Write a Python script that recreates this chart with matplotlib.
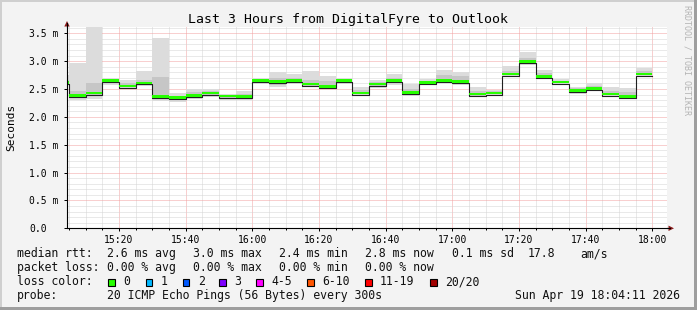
import matplotlib
matplotlib.use("Agg")
import matplotlib.pyplot as plt
from matplotlib.patches import Rectangle, Polygon
from matplotlib.lines import Line2D

# ---------------- data ----------------
bin_start = ["15:00", "15:05", "15:10", "15:15", "15:20", "15:25", "15:30", "15:35",
             "15:40", "15:45", "15:50", "15:55", "16:00", "16:05", "16:10", "16:15",
             "16:20", "16:25", "16:30", "16:35", "16:40", "16:45", "16:50", "16:55",
             "17:00", "17:05", "17:10", "17:15", "17:20", "17:25", "17:30", "17:35",
             "17:40", "17:45", "17:50", "17:55"]
median_ms = [2.62, 2.39, 2.43, 2.66, 2.555, 2.61, 2.36, 2.345,
             2.38, 2.43, 2.375, 2.36, 2.65, 2.63, 2.65, 2.59,
             2.54, 2.65, 2.43, 2.59, 2.65, 2.44, 2.62, 2.66,
             2.63, 2.41, 2.43, 2.77, 2.99, 2.72, 2.625, 2.48,
             2.51, 2.41, 2.36, 2.77]
smoke_lo = [2.58, 2.30, 2.32, 2.58, 2.50, 2.56, 2.285, 2.27,
            2.32, 2.36, 2.30, 2.30, 2.59, 2.54, 2.59, 2.53,
            2.495, 2.585, 2.39, 2.51, 2.57, 2.375, 2.57, 2.60,
            2.57, 2.36, 2.39, 2.73, 2.93, 2.675, 2.585, 2.41,
            2.47, 2.375, 2.33, 2.73]
smoke_hi = [2.75, 2.97, 3.61, 2.70, 2.66, 2.83, 3.42, 2.43,
            2.495, 2.495, 2.42, 2.465, 2.70, 2.81, 2.77, 2.83,
            2.73, 2.69, 2.53, 2.66, 2.77, 2.59, 2.68, 2.84,
            2.81, 2.54, 2.49, 2.91, 3.17, 2.84, 2.68, 2.53,
            2.60, 2.53, 2.51, 2.88]
inner_lo = [2.60, 2.34, 2.37, 2.62, 2.53, 2.58, 2.32, 2.31,
            2.35, 2.40, 2.33, 2.33, 2.62, 2.58, 2.62, 2.56,
            2.52, 2.62, 2.41, 2.55, 2.61, 2.41, 2.60, 2.63,
            2.60, 2.38, 2.41, 2.75, 2.96, 2.70, 2.60, 2.45,
            2.49, 2.39, 2.345, 2.75]
inner_hi = [2.66, 2.47, 2.60, 2.68, 2.60, 2.66, 2.72, 2.38,
            2.45, 2.47, 2.40, 2.41, 2.68, 2.69, 2.70, 2.66,
            2.64, 2.67, 2.48, 2.62, 2.70, 2.50, 2.65, 2.75,
            2.74, 2.46, 2.46, 2.83, 3.06, 2.78, 2.65, 2.51,
            2.55, 2.47, 2.44, 2.82]

x_tick_labels = ["15:20", "15:40", "16:00", "16:20", "16:40", "17:00", "17:20", "17:40", "18:00"]
y_tick_values = [0.0, 0.5, 1.0, 1.5, 2.0, 2.5, 3.0, 3.5]
y_tick_labels = ["0.0", "0.5 m", "1.0 m", "1.5 m", "2.0 m", "2.5 m", "3.0 m", "3.5 m"]

loss_labels = ["0", "1", "2", "3", "4-5", "6-10", "11-19", "20/20"]
loss_colors = ["#26ff00", "#00b8ff", "#0059ff", "#7e00ff", "#ff00ff", "#ff5500", "#ff0000", "#a10000"]

stats_rtt = ["2.6 ms avg", "3.0 ms max", "2.4 ms min", "2.8 ms now", "0.1 ms sd", "17.8", "am/s"]
stats_loss = ["0.00 % avg", "0.00 % max", "0.00 % min", "0.00 % now"]

title = "Last 3 Hours from DigitalFyre to Outlook"
probe_text = "20 ICMP Echo Pings (56 Bytes) every 300s"
date_text = "Sun Apr 19 18:04:11 2026"


def to_min(s):
    h, m = s.split(":")
    return (int(h) - 15) * 60 + int(m)


# ---------------- figure ----------------
W, H = 697, 310
MONO = "DejaVu Sans Mono"
plt.rcParams["font.family"] = MONO

fig = plt.figure(figsize=(W / 100, H / 100), dpi=100, facecolor="#f3f3f3")


def fx(px):
    return px / W


def fy(py):
    return 1 - py / H


AX_L, AX_R, AX_T, AX_B = 67, 667, 27, 228.3
PX_PER_MS = 55.7
ax = fig.add_axes([fx(AX_L), fy(AX_B), (AX_R - AX_L) / W, (AX_B - AX_T) / H])
ax.set_facecolor("white")

x0 = 4.4
ax.set_xlim(x0, x0 + 180)
ax.set_ylim(0, (AX_B - AX_T) / PX_PER_MS)

starts = [to_min(s) for s in bin_start]
BW = 5

# smoke
ax.bar(starts, [h - l for l, h in zip(smoke_lo, smoke_hi)], bottom=smoke_lo, width=BW,
       align="edge", color="#dcdcdc", linewidth=0, zorder=2)
ax.bar(starts, [h - l for l, h in zip(inner_lo, inner_hi)], bottom=inner_lo, width=BW,
       align="edge", color="#c6c6c6", linewidth=0, zorder=2.1)

# median line (step)
edges = starts + [starts[-1] + BW]
off = 0.028
ax.step(edges, [m - off for m in median_ms] + [median_ms[-1] - off], where="post",
        color="#202020", lw=0.8, zorder=3)
# loss-coloured band around median (0 loss -> green)
band = 0.05
ax.bar(starts, [band] * len(median_ms), bottom=[m - band / 2 for m in median_ms], width=BW,
       align="edge", color=loss_colors[0], linewidth=0, zorder=4)

# grid
ax.set_xticks([to_min(s) for s in x_tick_labels])
ax.set_xticklabels(x_tick_labels)
ax.set_xticks(list(range(5, 185, 5)), minor=True)
ax.set_yticks(y_tick_values)
ax.set_yticklabels(y_tick_labels)
ax.set_yticks([i / 10 for i in range(1, 37)], minor=True)
dot = (0, (1, 1))
ax.grid(which="minor", color="#d4d4d4", linestyle=dot, linewidth=0.72, zorder=1)
ax.grid(which="major", color="#f2a0a0", linestyle=dot, linewidth=0.72, zorder=1)
ax.set_axisbelow(True)

ax.tick_params(axis="x", which="major", length=2, width=0.72, pad=2.6, labelsize=7,
               colors="#000000")
ax.tick_params(axis="x", which="minor", length=1.5, width=0.72)
ax.tick_params(axis="y", which="major", length=2, width=0.72, pad=25.2, labelsize=7)
ax.tick_params(axis="y", which="minor", length=0)
for lbl in ax.get_yticklabels():
    lbl.set_horizontalalignment("left")

for side in ("top", "right"):
    ax.spines[side].set_visible(False)
for side in ("left", "bottom"):
    ax.spines[side].set_color("#000000")
    ax.spines[side].set_linewidth(0.8)
    ax.spines[side].set_zorder(5)

# axis extensions and arrows (figure pixel coords)
def px_pts(pts):
    return [(fx(x), fy(y)) for x, y in pts]

fig.add_artist(Line2D([fx(AX_L), fx(AX_L)], [fy(AX_T), fy(23)], transform=fig.transFigure,
                      color="black", lw=0.8))
fig.add_artist(Line2D([fx(AX_R), fx(670)], [fy(AX_B), fy(AX_B)], transform=fig.transFigure,
                      color="black", lw=0.8))
fig.add_artist(Polygon(px_pts([(64.3, 26.5), (69.7, 26.5), (67, 21.0)]), closed=True,
                       transform=fig.transFigure, color="#8b1a1a", lw=0))
fig.add_artist(Polygon(px_pts([(668.5, 225.6), (668.5, 231.0), (674, 228.3)]), closed=True,
                       transform=fig.transFigure, color="#8b1a1a", lw=0))

# title & labels
fig.text(fx(348), fy(23.3), title, ha="center", va="baseline", fontsize=9.5, family=MONO,
         color="#000000")
fig.text(fx(11), fy(127.5), "Seconds", rotation=90, ha="center", va="center", fontsize=8,
         family=MONO)
fig.text(fx(687.5), fy(60), "RRDTOOL / TOBI OETIKER", rotation=-90, ha="center", va="center",
         fontsize=6, family=MONO, color="#b4b4b4")

# legend text
LS = 8.3
def T(x, y, s, **kw):
    fig.text(fx(x), fy(y), s, ha=kw.pop("ha", "left"), va="baseline", fontsize=LS,
             family=MONO, color="#111111", **kw)

rtt_x = [107.3, 193.3, 279.3, 365, 451.7, 527.7, 580]
T(16.7, 257.3, "median rtt:")
for x, s in zip(rtt_x, stats_rtt):
    T(x, 257.3, s)
T(16.7, 271.2, "packet loss:")
for x, s in zip(rtt_x[:4], stats_loss):
    T(x, 271.2, s)
T(16.7, 285.2, "loss color:")
box_x = [108.3, 145.7, 182.7, 219.3, 256, 307.3, 365, 430]
for x, lab, col in zip(box_x, loss_labels, loss_colors):
    fig.add_artist(Rectangle((fx(x), fy(285.6)), 6.6 / W, 6.6 / H, transform=fig.transFigure,
                             facecolor=col, edgecolor="black", lw=0.8))
    T(x + 15, 285.2, lab)
T(16.7, 299, "probe:")
T(107.3, 299, probe_text)
T(680, 299, date_text, ha="right")

# 3D frame
fig.add_artist(Rectangle((0, fy(2)), 1, 2 / H, transform=fig.transFigure, color="#cfcfcf", lw=0))
fig.add_artist(Rectangle((0, 0), 2 / W, 1, transform=fig.transFigure, color="#cfcfcf", lw=0))
fig.add_artist(Rectangle((fx(694), 0), 3 / W, 1, transform=fig.transFigure, color="#9e9e9e", lw=0))
fig.add_artist(Rectangle((0, 0), 1, 3 / H, transform=fig.transFigure, color="#9e9e9e", lw=0))

fig.savefig("out.png", dpi=100, facecolor=fig.get_facecolor())
